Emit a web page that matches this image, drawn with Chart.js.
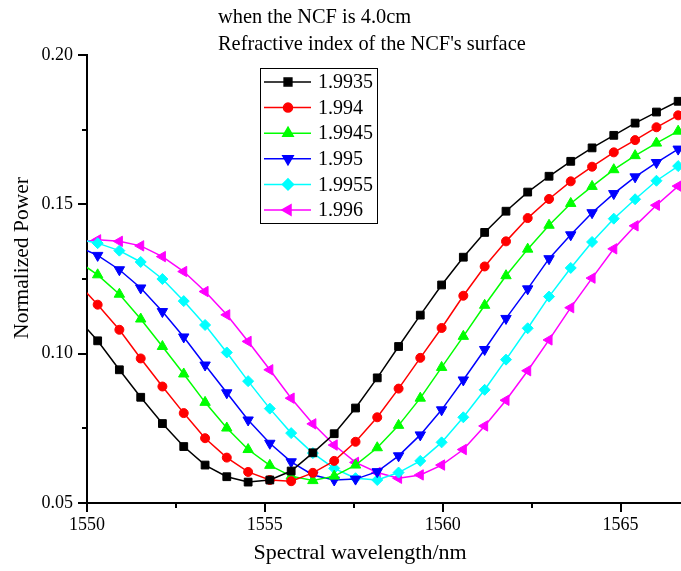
<!DOCTYPE html>
<html>
<head>
<meta charset="utf-8">
<title>NCF normalized power</title>
<script src="https://cdn.jsdelivr.net/npm/chart.js@4.4.0/dist/chart.umd.min.js"></script>
<style>
    html, body { margin: 0; padding: 0; background: #fff; }
    #wrap { width: 681px; height: 571px; }
</style>
</head>
<body>
<div id="wrap"><canvas id="ncf-chart" width="681" height="571"></canvas></div>
<script>
// wavelength grid shared by every curve (nm)
const wavelengths = [
    1549.70, 1550.30, 1550.91, 1551.51, 1552.12, 1552.72, 1553.32, 1553.93, 1554.53, 1555.14,
    1555.74, 1556.35, 1556.95, 1557.55, 1558.16, 1558.76, 1559.37, 1559.97, 1560.58, 1561.18,
    1561.78, 1562.39, 1562.99, 1563.60, 1564.20, 1564.81, 1565.41, 1566.01, 1566.62, 1567.22
];

const power19935 = [
    0.1123, 0.1043, 0.0946, 0.0854, 0.0766, 0.0689, 0.0627, 0.0588, 0.0570, 0.0577,
    0.0607, 0.0668, 0.0732, 0.0818, 0.0919, 0.1024, 0.1129, 0.1230, 0.1323, 0.1406,
    0.1477, 0.1541, 0.1594, 0.1644, 0.1689, 0.1731, 0.1772, 0.1809, 0.1845, 0.1879
];
const power1994 = [
    0.1241, 0.1164, 0.1080, 0.0984, 0.0890, 0.0801, 0.0717, 0.0652, 0.0604, 0.0577,
    0.0573, 0.0601, 0.0641, 0.0705, 0.0787, 0.0883, 0.0986, 0.1086, 0.1194, 0.1292,
    0.1376, 0.1454, 0.1518, 0.1577, 0.1626, 0.1674, 0.1715, 0.1758, 0.1798, 0.1836
];
const power19945 = [
    0.1313, 0.1264, 0.1199, 0.1116, 0.1024, 0.0932, 0.0837, 0.0751, 0.0679, 0.0626,
    0.0590, 0.0575, 0.0590, 0.0627, 0.0685, 0.0760, 0.0851, 0.0954, 0.1058, 0.1162,
    0.1261, 0.1350, 0.1430, 0.1503, 0.1560, 0.1616, 0.1663, 0.1705, 0.1745, 0.1780
];
const power1995 = [
    0.1361, 0.1329, 0.1281, 0.1220, 0.1141, 0.1056, 0.0962, 0.0869, 0.0778, 0.0700,
    0.0638, 0.0594, 0.0577, 0.0580, 0.0605, 0.0658, 0.0728, 0.0812, 0.0912, 0.1014,
    0.1118, 0.1217, 0.1318, 0.1398, 0.1472, 0.1536, 0.1592, 0.1640, 0.1685, 0.1727
];
const power19955 = [
    0.1385, 0.1370, 0.1345, 0.1307, 0.1250, 0.1176, 0.1096, 0.1004, 0.0908, 0.0816,
    0.0734, 0.0667, 0.0616, 0.0583, 0.0577, 0.0602, 0.0641, 0.0703, 0.0787, 0.0879,
    0.0980, 0.1085, 0.1191, 0.1287, 0.1374, 0.1452, 0.1517, 0.1579, 0.1628, 0.1673
];
const power1996 = [
    0.1371, 0.1381, 0.1376, 0.1361, 0.1325, 0.1275, 0.1208, 0.1130, 0.1041, 0.0946,
    0.0851, 0.0765, 0.0694, 0.0636, 0.0602, 0.0583, 0.0594, 0.0627, 0.0679, 0.0758,
    0.0844, 0.0943, 0.1046, 0.1154, 0.1253, 0.1351, 0.1428, 0.1497, 0.1561, 0.1616
];

const seriesLabels = ['1.9935', '1.994', '1.9945', '1.995', '1.9955', '1.996'];
const seriesValues = [power19935, power1994, power19945, power1995, power19955, power1996];

const xTicks = [1550, 1552.5, 1555, 1557.5, 1560, 1562.5, 1565];
const xTickLabels = [1550, 1555, 1560, 1565];
const yTicks = [0.05, 0.075, 0.10, 0.125, 0.15, 0.175, 0.20];
const yTickLabels = [0.05, 0.10, 0.15, 0.20];

const headerLines = ['when the NCF is 4.0cm', "Refractive index of the NCF's surface"];
const xTitle = 'Spectral wavelength/nm';
const yTitle = 'Normalized Power';

(function() {
    'use strict';

    const SERIF = '"Liberation Serif", "Times New Roman", serif';

    // colour + symbol per curve, same order as seriesLabels
    const styles = [
        { color: '#000000', pointStyle: 'rect',     radius: 5.5, rotation: 0 },
        { color: '#ff0000', pointStyle: 'circle',   radius: 4.5, rotation: 0 },
        { color: '#00ff00', pointStyle: 'triangle', radius: 6,   rotation: 0 },
        { color: '#0000ff', pointStyle: 'triangle', radius: 6,   rotation: 180 },
        { color: '#00ffff', pointStyle: 'rectRot',  radius: 5.5, rotation: 0 },
        { color: '#ff00ff', pointStyle: 'triangle', radius: 6,   rotation: -90 }
    ];

    const isIn = (list, v) => list.some(l => Math.abs(l - v) < 1e-9);

    const NcfChart = {
        init: function() {
            const ctx = document.getElementById('ncf-chart');
            new Chart(ctx, {
                type: 'line',
                data: { datasets: this.buildDatasets() },
                options: this.buildOptions(),
                plugins: [this.decorPlugin()]
            });
        },

        buildDatasets: function() {
            return seriesLabels.map((label, i) => {
                const s = styles[i];
                return {
                    label: label,
                    data: wavelengths.map((x, j) => ({ x: x, y: seriesValues[i][j] })),
                    borderColor: s.color,
                    backgroundColor: s.color,
                    borderWidth: 1.5,
                    tension: 0,
                    pointStyle: s.pointStyle,
                    pointRadius: s.radius,
                    pointRotation: s.rotation,
                    pointBorderWidth: 1,
                    pointBorderColor: s.color,
                    pointBackgroundColor: s.color
                };
            });
        },

        buildOptions: function() {
            return {
                responsive: false,
                animation: false,
                layout: {
                    autoPadding: false,
                    padding: { top: 55, right: 0, left: 0, bottom: 0 }
                },
                plugins: {
                    legend: { display: false },
                    tooltip: { enabled: false }
                },
                scales: {
                    x: {
                        type: 'linear',
                        min: 1550,
                        max: 1566.7,
                        afterBuildTicks: (scale) => { scale.ticks = xTicks.map(v => ({ value: v })); },
                        afterFit: (scale) => {
                            scale.height = 68;
                            scale.paddingLeft = 0;
                            scale.paddingRight = 0;
                        },
                        border: { display: true, color: '#000', width: 2 },
                        grid: {
                            drawOnChartArea: false,
                            drawTicks: true,
                            tickLength: 9,
                            lineWidth: 2,
                            tickColor: (c) => isIn(xTickLabels, c.tick.value) ? '#000' : 'rgba(0,0,0,0)'
                        },
                        ticks: {
                            autoSkip: false,
                            maxRotation: 0,
                            padding: 2,
                            color: '#000',
                            font: { family: SERIF, size: 18 },
                            callback: (v) => isIn(xTickLabels, v) ? String(v) : ''
                        }
                    },
                    y: {
                        type: 'linear',
                        min: 0.05,
                        max: 0.20,
                        afterBuildTicks: (scale) => { scale.ticks = yTicks.map(v => ({ value: v })); },
                        afterFit: (scale) => { scale.width = 87; },
                        border: { display: true, color: '#000', width: 2 },
                        grid: {
                            drawOnChartArea: false,
                            drawTicks: true,
                            tickLength: 9,
                            lineWidth: 2,
                            tickColor: (c) => isIn(yTickLabels, c.tick.value) ? '#000' : 'rgba(0,0,0,0)'
                        },
                        ticks: {
                            autoSkip: false,
                            padding: 5,
                            color: '#000',
                            font: { family: SERIF, size: 18 },
                            callback: (v) => isIn(yTickLabels, v) ? v.toFixed(2) : ''
                        }
                    }
                }
            };
        },

        // minor ticks, titles and the framed legend
        decorPlugin: function() {
            return {
                id: 'ncfDecor',
                afterDraw: (chart) => {
                    const ctx = chart.ctx;
                    const xs = chart.scales.x;
                    const ys = chart.scales.y;
                    const area = chart.chartArea;

                    ctx.save();
                    ctx.strokeStyle = '#000';
                    ctx.lineWidth = 2;
                    xTicks.filter(v => !isIn(xTickLabels, v)).forEach(v => {
                        const px = Math.round(xs.getPixelForValue(v));
                        ctx.beginPath();
                        ctx.moveTo(px, area.bottom);
                        ctx.lineTo(px, area.bottom + 5);
                        ctx.stroke();
                    });
                    yTicks.filter(v => !isIn(yTickLabels, v)).forEach(v => {
                        const py = Math.round(ys.getPixelForValue(v));
                        ctx.beginPath();
                        ctx.moveTo(area.left, py);
                        ctx.lineTo(area.left - 5, py);
                        ctx.stroke();
                    });

                    ctx.fillStyle = '#000';
                    ctx.textBaseline = 'middle';

                    ctx.font = '20.4px ' + SERIF;
                    ctx.textAlign = 'left';
                    ctx.fillText(headerLines[0], 218, 18);
                    ctx.fillText(headerLines[1], 218, 45);

                    ctx.font = '22px ' + SERIF;
                    ctx.textAlign = 'center';
                    ctx.fillText(xTitle, 360, 553);

                    ctx.font = '21.5px ' + SERIF;
                    ctx.save();
                    ctx.translate(22, 258);
                    ctx.rotate(-Math.PI / 2);
                    ctx.fillText(yTitle, 0, 0);
                    ctx.restore();

                    this.drawLegend(chart);
                    ctx.restore();
                }
            };
        },

        drawLegend: function(chart) {
            const ctx = chart.ctx;
            const box = { left: 260, top: 68, width: 117, height: 155 };

            ctx.save();
            ctx.fillStyle = '#fff';
            ctx.fillRect(box.left, box.top, box.width, box.height);
            ctx.strokeStyle = '#000';
            ctx.lineWidth = 1;
            ctx.strokeRect(box.left + 0.5, box.top + 0.5, box.width, box.height);

            chart.data.datasets.forEach((ds, i) => {
                const y = box.top + 14 + i * 25.6;
                ctx.strokeStyle = ds.borderColor;
                ctx.lineWidth = 1.5;
                ctx.beginPath();
                ctx.moveTo(box.left + 4, y);
                ctx.lineTo(box.left + 51, y);
                ctx.stroke();

                ctx.fillStyle = ds.pointBackgroundColor;
                ctx.strokeStyle = ds.pointBorderColor;
                Chart.helpers.drawPoint(ctx, {
                    pointStyle: ds.pointStyle,
                    radius: ds.pointRadius,
                    rotation: ds.pointRotation,
                    borderWidth: 1
                }, box.left + 28, y);

                ctx.fillStyle = '#000';
                ctx.font = '20px ' + SERIF;
                ctx.textAlign = 'left';
                ctx.textBaseline = 'middle';
                ctx.fillText(ds.label, box.left + 58, y + 1);
            });
            ctx.restore();
        }
    };

    NcfChart.init();
})();
</script>
</body>
</html>
